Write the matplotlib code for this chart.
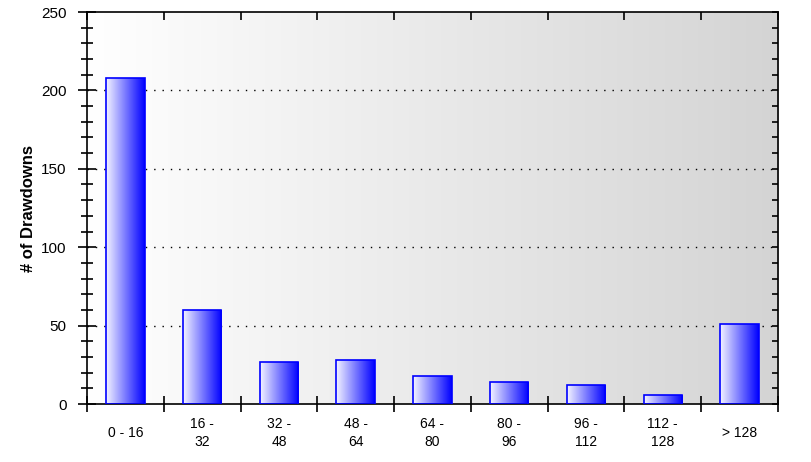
import numpy as np
import matplotlib.pyplot as plt
from matplotlib.ticker import MultipleLocator, FixedLocator, NullFormatter
from matplotlib.colors import LinearSegmentedColormap

plt.rcParams['font.family'] = ['Liberation Sans', 'DejaVu Sans']

# Data
categories = ["0 - 16", "16 -\n32", "32 -\n48", "48 -\n64", "64 -\n80",
              "80 -\n96", "96 -\n112", "112 -\n128", "> 128"]
counts = [208, 60, 27, 28, 18, 14, 12, 6, 51]

fig = plt.figure(figsize=(8.12, 4.62), dpi=100)
ax = fig.add_axes([0.1071, 0.1255, 0.8510, 0.8485])

n = len(categories)
x = np.arange(n)
ax.set_xlim(-0.5, n - 0.5)
ax.set_ylim(0, 250)

# background gradient white -> light gray
bg_cmap = LinearSegmentedColormap.from_list("bg", ["#ffffff", "#d4d4d4"])
grad = np.linspace(0, 1, 256).reshape(1, -1)
ax.imshow(grad, cmap=bg_cmap, aspect='auto', extent=[0, 1, 0, 1],
          transform=ax.transAxes, zorder=0)

# grid
for y in [50, 100, 150, 200]:
    ax.axhline(y, color='black', lw=1, linestyle=(0, (1, 5)), zorder=1)

# bars with gradient fill
bar_cmap = LinearSegmentedColormap.from_list("bar", ["#f4f4ff", "#0000ff"])
bars = ax.bar(x, counts, width=0.5, facecolor='none', edgecolor='#0000ff',
              linewidth=1.2, zorder=3)
for b in bars:
    x0, y0 = b.get_x(), b.get_y()
    w, h = b.get_width(), b.get_height()
    im = ax.imshow(grad, cmap=bar_cmap, aspect='auto',
                   extent=[x0, x0 + w, y0, y0 + h], zorder=2)
    im.set_clip_path(b)

# x ticks: boundaries marked, labels centered under bars
ax.xaxis.set_major_locator(FixedLocator(np.arange(-0.5, n, 1.0)))
ax.xaxis.set_major_formatter(NullFormatter())
ax.xaxis.set_minor_locator(FixedLocator(x))
ax.set_xticklabels(categories, minor=True, fontsize=10, linespacing=1.35,
                   va='center')
ax.tick_params(axis='x', which='minor', length=0, pad=21)
ax.tick_params(axis='x', which='major', direction='inout', length=12,
               width=1.2, top=False)

ax.yaxis.set_major_locator(MultipleLocator(50))
ax.yaxis.set_minor_locator(MultipleLocator(10))
ax.tick_params(axis='y', which='major', direction='inout', length=13,
               width=1.2, labelsize=11, right=False, pad=8)
ax.tick_params(axis='y', which='minor', direction='inout', length=8,
               width=1.2, right=False)

# top ticks inward only, right ticks inward only
sec_top = ax.secondary_xaxis('top')
sec_top.set_xticks(np.arange(-0.5, n, 1.0))
sec_top.tick_params(direction='in', length=6, width=1.2, labeltop=False)
sec_top.spines['top'].set_visible(False)

sec_right = ax.secondary_yaxis('right')
sec_right.yaxis.set_major_locator(MultipleLocator(10))
sec_right.tick_params(direction='in', length=4, width=1.2, labelright=False)
sec_right.spines['right'].set_visible(False)

for s in ax.spines.values():
    s.set_linewidth(1.2)

ax.set_ylabel("# of Drawdowns", fontsize=12, fontweight='bold', labelpad=4)

fig.savefig("out.png", dpi=100)
